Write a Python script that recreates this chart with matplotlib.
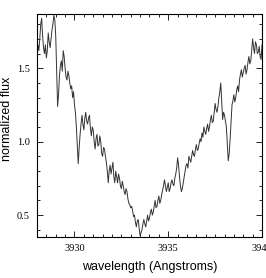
import numpy as np
import matplotlib
matplotlib.use("Agg")
import matplotlib.pyplot as plt
import matplotlib.ticker as mticker

# normalized flux, every 0.05 Angstrom from 3928.0
flux = [
    1.55, 1.66, 1.62, 1.70, 1.80, 1.84, 1.72, 1.64, 1.60, 1.66,
    1.57, 1.62, 1.74, 1.68, 1.64, 1.70, 1.76, 1.80, 1.86, 1.83,
    1.72, 1.48, 1.24, 1.32, 1.45, 1.52, 1.55, 1.48, 1.62, 1.58,
    1.50, 1.44, 1.42, 1.48, 1.45, 1.40, 1.36, 1.38, 1.30, 1.34,
    1.25, 1.20, 1.10, 0.98, 0.85, 0.96, 1.05, 1.12, 1.18, 1.12,
    1.08, 1.16, 1.20, 1.14, 1.12, 1.16, 1.18, 1.09, 1.04, 1.10,
    1.08, 1.00, 0.95, 1.02, 1.05, 0.97, 0.98, 1.04, 1.00, 0.92,
    0.90, 0.96, 0.95, 0.90, 0.86, 0.80, 0.72, 0.80, 0.84, 0.78,
    0.82, 0.86, 0.76, 0.72, 0.80, 0.76, 0.72, 0.78, 0.75, 0.70,
    0.68, 0.73, 0.70, 0.66, 0.64, 0.68, 0.66, 0.61, 0.58, 0.57,
    0.55, 0.56, 0.53, 0.49, 0.50, 0.45, 0.42, 0.46, 0.47, 0.41,
    0.36, 0.38, 0.40, 0.44, 0.47, 0.44, 0.42, 0.46, 0.50, 0.46,
    0.48, 0.52, 0.54, 0.50, 0.52, 0.56, 0.60, 0.55, 0.56, 0.60,
    0.63, 0.58, 0.60, 0.64, 0.67, 0.70, 0.74, 0.70, 0.66, 0.69,
    0.72, 0.66, 0.68, 0.72, 0.74, 0.71, 0.70, 0.75, 0.78, 0.82,
    0.89, 0.84, 0.76, 0.70, 0.66, 0.68, 0.72, 0.76, 0.80, 0.84,
    0.85, 0.82, 0.90, 0.88, 0.86, 0.90, 0.94, 0.91, 0.90, 0.95,
    0.98, 0.94, 0.95, 0.99, 1.02, 1.00, 1.06, 1.03, 1.10, 1.07,
    1.05, 1.09, 1.12, 1.07, 1.10, 1.15, 1.18, 1.13, 1.14, 1.20,
    1.26, 1.22, 1.20, 1.24, 1.30, 1.34, 1.40, 1.28, 1.15, 1.20,
    1.18, 1.14, 1.10, 0.98, 0.87, 0.92, 1.02, 1.14, 1.25, 1.28,
    1.32, 1.27, 1.30, 1.35, 1.38, 1.34, 1.42, 1.46, 1.49, 1.44,
    1.47, 1.50, 1.52, 1.46, 1.49, 1.54, 1.58, 1.53, 1.55, 1.62,
    1.70, 1.64, 1.60, 1.68, 1.66, 1.60, 1.61, 1.65, 1.58, 1.56,
    1.66,
]
wave = [3928.0 + 0.05 * i for i in range(len(flux))]

fig = plt.figure(figsize=(2.66, 2.78), dpi=100)
ax = fig.add_axes([0.139, 0.147, 0.846, 0.803])

ax.plot(wave, flux, color="#333333", lw=0.7)

ax.set_xlim(3928, 3940)
ax.set_ylim(0.35, 1.87)

ax.xaxis.set_major_locator(mticker.MultipleLocator(5))
ax.xaxis.set_minor_locator(mticker.MultipleLocator(0.5))
ax.yaxis.set_major_locator(mticker.MultipleLocator(0.5))
ax.yaxis.set_minor_locator(mticker.MultipleLocator(0.1))
ax.yaxis.set_major_formatter(mticker.FormatStrFormatter('%.1f'))

ax.tick_params(which="both", direction="in", top=True, right=True, width=0.6)
ax.tick_params(which="major", length=4, labelsize=7.5, pad=5)
ax.tick_params(which="minor", length=2.5)
for lab in ax.get_xticklabels() + ax.get_yticklabels():
    lab.set_fontfamily("Liberation Serif")
for s in ax.spines.values():
    s.set_linewidth(0.8)

ax.set_xlabel("wavelength (Angstroms)", fontsize=9, family="Liberation Sans", labelpad=6)
ax.set_ylabel("normalized flux", fontsize=9, family="Liberation Sans")
ax.yaxis.set_label_coords(-0.105, 0.53)

fig.savefig("out.png", dpi=100)
